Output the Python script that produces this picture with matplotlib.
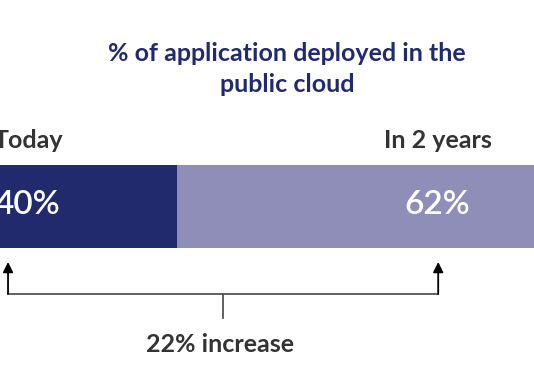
import matplotlib.pyplot as plt

# data
labels = ['Today', 'In 2 years']
shares = [40, 62]
title = '% of application deployed in the\npublic cloud'
change_text = '22% increase'

navy = '#222a6e'
lilac = '#8f8eb9'
grey = '#333333'

plt.rcParams['font.family'] = ['Lato', 'DejaVu Sans']

fig = plt.figure(figsize=(5.34, 3.81), dpi=100)
ax = fig.add_axes([0, 0, 1, 1])
ax.set_xlim(10.25, 100)
ax.set_ylim(381, 0)
ax.axis('off')

# stacked bar: today share, then the rest up to 100
ax.barh(206, shares[0], height=83, left=0, color=navy)
ax.barh(206, 100 - shares[0], height=83, left=shares[0], color=lilac)

fig.text(0.5375, 0.82, title, ha='center', va='center', color=navy,
         fontsize=18, fontweight='bold', linespacing=1.42)

ax.text(20.9, 141, labels[0], ha='right', va='center', color=grey,
        fontsize=18, fontweight='bold')
ax.text(83.8, 141, labels[1], ha='center', va='center', color=grey,
        fontsize=18, fontweight='bold')

ax.text(20.4, 205, f'{shares[0]}%', ha='right', va='center', color='white',
        fontsize=24, fontweight='semibold')
ax.text(83.8, 205, f'{shares[1]}%', ha='center', va='center', color='white',
        fontsize=24, fontweight='semibold')

# bracket with arrows
xl, xr, xm = 11.6, 83.9, 47.7
ax.plot([xl, xr], [293.5, 293.5], color='#555555', lw=1.3)
ax.plot([xm, xm], [293.5, 318], color='#555555', lw=1.3)
for x in (xl, xr):
    ax.annotate('', xy=(x, 262), xytext=(x, 294),
                arrowprops=dict(arrowstyle='-|>', color='black', lw=1.3,
                                mutation_scale=15, shrinkA=0, shrinkB=0))

ax.text(47.2, 344, change_text, ha='center', va='center', color=grey,
        fontsize=18, fontweight='bold')

fig.savefig('out.png', dpi=100)
